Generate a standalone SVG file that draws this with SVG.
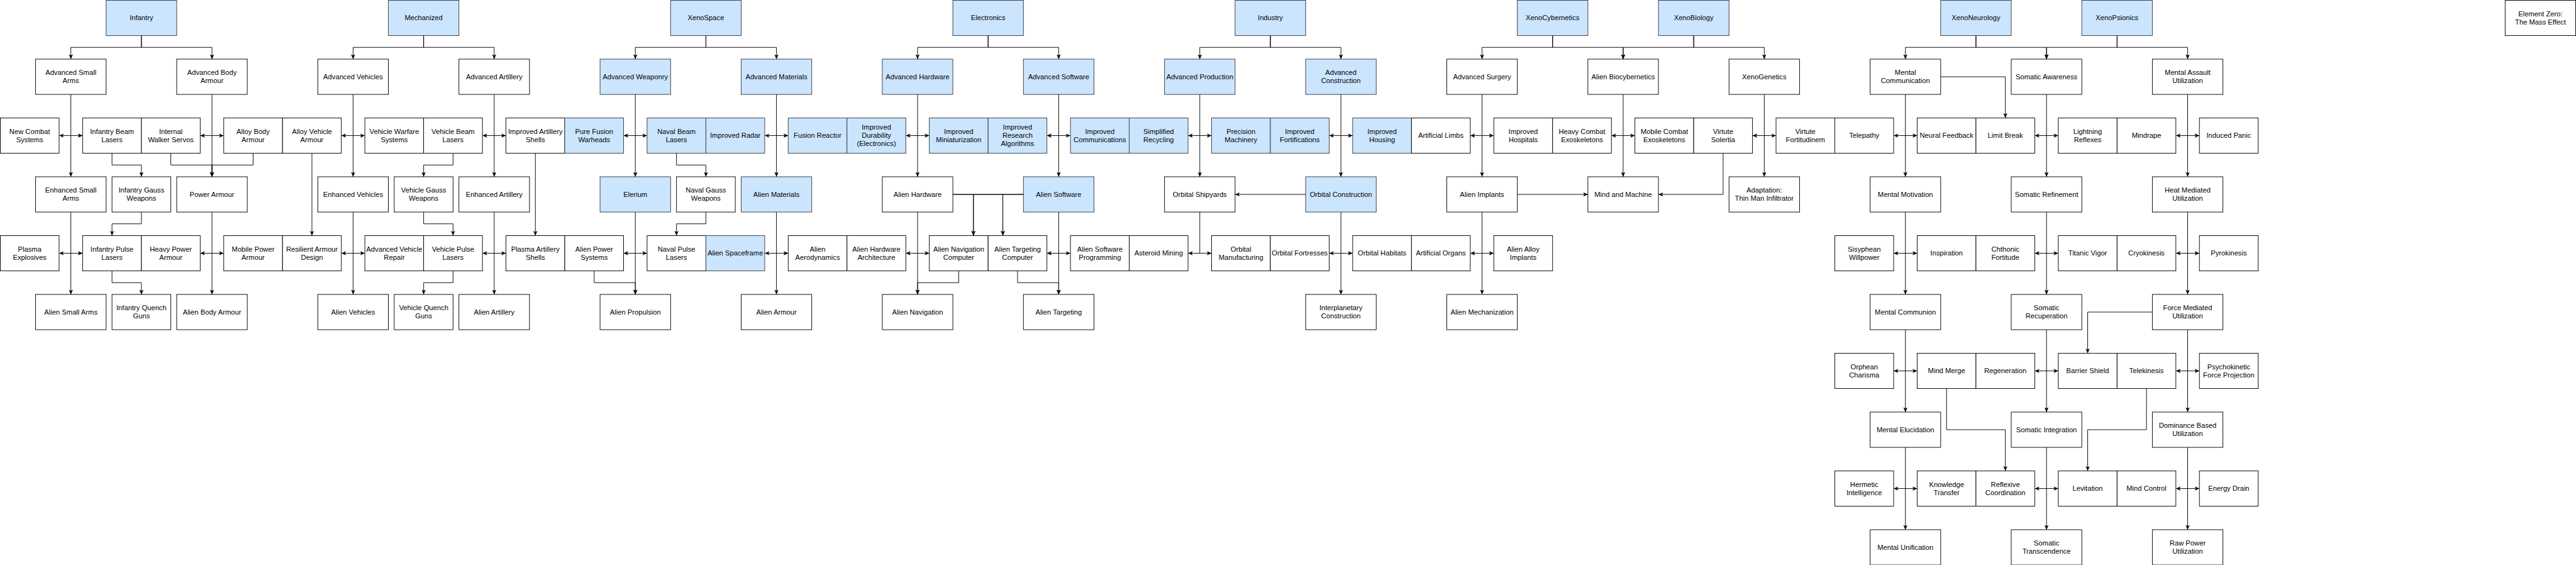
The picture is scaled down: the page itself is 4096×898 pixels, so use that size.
<svg xmlns="http://www.w3.org/2000/svg" width="4096" height="898" viewBox="0 0 4096 898">
<style>
.w{fill:#ffffff;stroke:#000000;stroke-width:1}
.b{fill:#cce5ff;stroke:#36393d;stroke-width:1}
text{font-family:"Liberation Sans",Arial,Helvetica,sans-serif;font-size:12px;text-anchor:middle;fill:#000000}
.c{fill:none;stroke:#000000;stroke-width:1;marker-end:url(#ah)}
.d{fill:none;stroke:#000000;stroke-width:1;marker-start:url(#ah);marker-end:url(#ah)}
.l{fill:none;stroke:#000000;stroke-width:1}
</style>
<defs>
<marker id="ah" viewBox="0 0 8 8" refX="8" refY="4" markerWidth="8" markerHeight="8" markerUnits="userSpaceOnUse" orient="auto-start-reverse">
<path d="M0,0.5 L8,4 L0,7.5 L2,4 Z" fill="#000000"/>
</marker>
</defs>
<rect x="0" y="0" width="4096" height="898" fill="#ffffff"/>
<g transform="scale(0.93495) translate(0.5 0.5)">
<g id="nodes">
<!-- Row 0 -->
<g id="infantry"><rect class="b" x="180" y="0" width="120" height="60"/><text x="240" y="34">Infantry</text></g>
<g id="mechanized"><rect class="b" x="660" y="0" width="120" height="60"/><text x="720" y="34">Mechanized</text></g>
<g id="xenospace"><rect class="b" x="1140" y="0" width="120" height="60"/><text x="1200" y="34">XenoSpace</text></g>
<g id="electronics"><rect class="b" x="1620" y="0" width="120" height="60"/><text x="1680" y="34">Electronics</text></g>
<g id="industry"><rect class="b" x="2100" y="0" width="120" height="60"/><text x="2160" y="34">Industry</text></g>
<g id="xenocybernetics"><rect class="b" x="2580" y="0" width="120" height="60"/><text x="2640" y="34">XenoCybernetics</text></g>
<g id="xenobiology"><rect class="b" x="2820" y="0" width="120" height="60"/><text x="2880" y="34">XenoBiology</text></g>
<g id="xenoneurology"><rect class="b" x="3300" y="0" width="120" height="60"/><text x="3360" y="34">XenoNeurology</text></g>
<g id="xenopsionics"><rect class="b" x="3540" y="0" width="120" height="60"/><text x="3600" y="34">XenoPsionics</text></g>
<g id="element-zero"><rect class="w" x="4260" y="0" width="120" height="60"/><text x="4320" y="27">Element Zero:</text><text x="4320" y="41">The Mass Effect</text></g>
<!-- Row 1 -->
<g id="adv-small-arms"><rect class="w" x="60" y="100" width="120" height="60"/><text x="120" y="127">Advanced Small</text><text x="120" y="141">Arms</text></g>
<g id="adv-body-armour"><rect class="w" x="300" y="100" width="120" height="60"/><text x="360" y="127">Advanced Body</text><text x="360" y="141">Armour</text></g>
<g id="adv-vehicles"><rect class="w" x="540" y="100" width="120" height="60"/><text x="600" y="134">Advanced Vehicles</text></g>
<g id="adv-artillery"><rect class="w" x="780" y="100" width="120" height="60"/><text x="840" y="134">Advanced Artillery</text></g>
<g id="adv-weaponry"><rect class="b" x="1020" y="100" width="120" height="60"/><text x="1080" y="134">Advanced Weaponry</text></g>
<g id="adv-materials"><rect class="b" x="1260" y="100" width="120" height="60"/><text x="1320" y="134">Advanced Materials</text></g>
<g id="adv-hardware"><rect class="b" x="1500" y="100" width="120" height="60"/><text x="1560" y="134">Advanced Hardware</text></g>
<g id="adv-software"><rect class="b" x="1740" y="100" width="120" height="60"/><text x="1800" y="134">Advanced Software</text></g>
<g id="adv-production"><rect class="b" x="1980" y="100" width="120" height="60"/><text x="2040" y="134">Advanced Production</text></g>
<g id="adv-construction"><rect class="b" x="2220" y="100" width="120" height="60"/><text x="2280" y="127">Advanced</text><text x="2280" y="141">Construction</text></g>
<g id="adv-surgery"><rect class="w" x="2460" y="100" width="120" height="60"/><text x="2520" y="134">Advanced Surgery</text></g>
<g id="alien-biocybernetics"><rect class="w" x="2700" y="100" width="120" height="60"/><text x="2760" y="134">Alien Biocybernetics</text></g>
<g id="xenogenetics"><rect class="w" x="2940" y="100" width="120" height="60"/><text x="3000" y="134">XenoGenetics</text></g>
<g id="mental-communication"><rect class="w" x="3180" y="100" width="120" height="60"/><text x="3240" y="127">Mental</text><text x="3240" y="141">Communication</text></g>
<g id="somatic-awareness"><rect class="w" x="3420" y="100" width="120" height="60"/><text x="3480" y="134">Somatic Awareness</text></g>
<g id="mental-assault"><rect class="w" x="3660" y="100" width="120" height="60"/><text x="3720" y="127">Mental Assault</text><text x="3720" y="141">Utilization</text></g>
<!-- Row 2 -->
<g id="new-combat-systems"><rect class="w" x="0" y="200" width="100" height="60"/><text x="50" y="227">New Combat</text><text x="50" y="241">Systems</text></g>
<g id="infantry-beam-lasers"><rect class="w" x="140" y="200" width="100" height="60"/><text x="190" y="227">Infantry Beam</text><text x="190" y="241">Lasers</text></g>
<g id="internal-walker-servos"><rect class="w" x="240" y="200" width="100" height="60"/><text x="290" y="227">Internal</text><text x="290" y="241">Walker Servos</text></g>
<g id="alloy-body-armour"><rect class="w" x="380" y="200" width="100" height="60"/><text x="430" y="227">Alloy Body</text><text x="430" y="241">Armour</text></g>
<g id="alloy-vehicle-armour"><rect class="w" x="480" y="200" width="100" height="60"/><text x="530" y="227">Alloy Vehicle</text><text x="530" y="241">Armour</text></g>
<g id="vehicle-warfare-systems"><rect class="w" x="620" y="200" width="100" height="60"/><text x="670" y="227">Vehicle Warfare</text><text x="670" y="241">Systems</text></g>
<g id="vehicle-beam-lasers"><rect class="w" x="720" y="200" width="100" height="60"/><text x="770" y="227">Vehicle Beam</text><text x="770" y="241">Lasers</text></g>
<g id="improved-artillery-shells"><rect class="w" x="860" y="200" width="100" height="60"/><text x="910" y="227">Improved Artillery</text><text x="910" y="241">Shells</text></g>
<g id="pure-fusion-warheads"><rect class="b" x="960" y="200" width="100" height="60"/><text x="1010" y="227">Pure Fusion</text><text x="1010" y="241">Warheads</text></g>
<g id="naval-beam-lasers"><rect class="b" x="1100" y="200" width="100" height="60"/><text x="1150" y="227">Naval Beam</text><text x="1150" y="241">Lasers</text></g>
<g id="improved-radar"><rect class="b" x="1200" y="200" width="100" height="60"/><text x="1250" y="234">Improved Radar</text></g>
<g id="fusion-reactor"><rect class="b" x="1340" y="200" width="100" height="60"/><text x="1390" y="234">Fusion Reactor</text></g>
<g id="improved-durability"><rect class="b" x="1440" y="200" width="100" height="60"/><text x="1490" y="220">Improved</text><text x="1490" y="234">Durability</text><text x="1490" y="248">(Electronics)</text></g>
<g id="improved-miniaturization"><rect class="b" x="1580" y="200" width="100" height="60"/><text x="1630" y="227">Improved</text><text x="1630" y="241">Miniaturization</text></g>
<g id="improved-research"><rect class="b" x="1680" y="200" width="100" height="60"/><text x="1730" y="220">Improved</text><text x="1730" y="234">Research</text><text x="1730" y="248">Algorithms</text></g>
<g id="improved-communications"><rect class="b" x="1820" y="200" width="100" height="60"/><text x="1870" y="227">Improved</text><text x="1870" y="241">Communications</text></g>
<g id="simplified-recycling"><rect class="b" x="1920" y="200" width="100" height="60"/><text x="1970" y="227">Simplified</text><text x="1970" y="241">Recycling</text></g>
<g id="precision-machinery"><rect class="b" x="2060" y="200" width="100" height="60"/><text x="2110" y="227">Precision</text><text x="2110" y="241">Machinery</text></g>
<g id="improved-fortifications"><rect class="b" x="2160" y="200" width="100" height="60"/><text x="2210" y="227">Improved</text><text x="2210" y="241">Fortifications</text></g>
<g id="improved-housing"><rect class="b" x="2300" y="200" width="100" height="60"/><text x="2350" y="227">Improved</text><text x="2350" y="241">Housing</text></g>
<g id="artificial-limbs"><rect class="w" x="2400" y="200" width="100" height="60"/><text x="2450" y="234">Artificial Limbs</text></g>
<g id="improved-hospitals"><rect class="w" x="2540" y="200" width="100" height="60"/><text x="2590" y="227">Improved</text><text x="2590" y="241">Hospitals</text></g>
<g id="heavy-combat-exoskeletons"><rect class="w" x="2640" y="200" width="100" height="60"/><text x="2690" y="227">Heavy Combat</text><text x="2690" y="241">Exoskeletons</text></g>
<g id="mobile-combat-exoskeletons"><rect class="w" x="2780" y="200" width="100" height="60"/><text x="2830" y="227">Mobile Combat</text><text x="2830" y="241">Exoskeletons</text></g>
<g id="virtute-solertia"><rect class="w" x="2880" y="200" width="100" height="60"/><text x="2930" y="227">Virtute</text><text x="2930" y="241">Solertia</text></g>
<g id="virtute-fortitudinem"><rect class="w" x="3020" y="200" width="100" height="60"/><text x="3070" y="227">Virtute</text><text x="3070" y="241">Fortitudinem</text></g>
<g id="telepathy"><rect class="w" x="3120" y="200" width="100" height="60"/><text x="3170" y="234">Telepathy</text></g>
<g id="neural-feedback"><rect class="w" x="3260" y="200" width="100" height="60"/><text x="3310" y="234">Neural Feedback</text></g>
<g id="limit-break"><rect class="w" x="3360" y="200" width="100" height="60"/><text x="3410" y="234">Limit Break</text></g>
<g id="lightning-reflexes"><rect class="w" x="3500" y="200" width="100" height="60"/><text x="3550" y="227">Lightning</text><text x="3550" y="241">Reflexes</text></g>
<g id="mindrape"><rect class="w" x="3600" y="200" width="100" height="60"/><text x="3650" y="234">Mindrape</text></g>
<g id="induced-panic"><rect class="w" x="3740" y="200" width="100" height="60"/><text x="3790" y="234">Induced Panic</text></g>
<!-- Row 3 -->
<g id="enhanced-small-arms"><rect class="w" x="60" y="300" width="120" height="60"/><text x="120" y="327">Enhanced Small</text><text x="120" y="341">Arms</text></g>
<g id="infantry-gauss-weapons"><rect class="w" x="190" y="300" width="100" height="60"/><text x="240" y="327">Infantry Gauss</text><text x="240" y="341">Weapons</text></g>
<g id="power-armour"><rect class="w" x="300" y="300" width="120" height="60"/><text x="360" y="334">Power Armour</text></g>
<g id="enhanced-vehicles"><rect class="w" x="540" y="300" width="120" height="60"/><text x="600" y="334">Enhanced Vehicles</text></g>
<g id="vehicle-gauss-weapons"><rect class="w" x="670" y="300" width="100" height="60"/><text x="720" y="327">Vehicle Gauss</text><text x="720" y="341">Weapons</text></g>
<g id="enhanced-artillery"><rect class="w" x="780" y="300" width="120" height="60"/><text x="840" y="334">Enhanced Artillery</text></g>
<g id="elerium"><rect class="b" x="1020" y="300" width="120" height="60"/><text x="1080" y="334">Elerium</text></g>
<g id="naval-gauss-weapons"><rect class="w" x="1150" y="300" width="100" height="60"/><text x="1200" y="327">Naval Gauss</text><text x="1200" y="341">Weapons</text></g>
<g id="alien-materials"><rect class="b" x="1260" y="300" width="120" height="60"/><text x="1320" y="334">Alien Materials</text></g>
<g id="alien-hardware"><rect class="w" x="1500" y="300" width="120" height="60"/><text x="1560" y="334">Alien Hardware</text></g>
<g id="alien-software"><rect class="b" x="1740" y="300" width="120" height="60"/><text x="1800" y="334">Alien Software</text></g>
<g id="orbital-shipyards"><rect class="w" x="1980" y="300" width="120" height="60"/><text x="2040" y="334">Orbital Shipyards</text></g>
<g id="orbital-construction"><rect class="b" x="2220" y="300" width="120" height="60"/><text x="2280" y="334">Orbital Construction</text></g>
<g id="alien-implants"><rect class="w" x="2460" y="300" width="120" height="60"/><text x="2520" y="334">Alien Implants</text></g>
<g id="mind-and-machine"><rect class="w" x="2700" y="300" width="120" height="60"/><text x="2760" y="334">Mind and Machine</text></g>
<g id="adaptation"><rect class="w" x="2940" y="300" width="120" height="60"/><text x="3000" y="327">Adaptation:</text><text x="3000" y="341">Thin Man Infiltrator</text></g>
<g id="mental-motivation"><rect class="w" x="3180" y="300" width="120" height="60"/><text x="3240" y="334">Mental Motivation</text></g>
<g id="somatic-refinement"><rect class="w" x="3420" y="300" width="120" height="60"/><text x="3480" y="334">Somatic Refinement</text></g>
<g id="heat-mediated"><rect class="w" x="3660" y="300" width="120" height="60"/><text x="3720" y="327">Heat Mediated</text><text x="3720" y="341">Utilization</text></g>
<!-- Row 4 -->
<g id="plasma-explosives"><rect class="w" x="0" y="400" width="100" height="60"/><text x="50" y="427">Plasma</text><text x="50" y="441">Explosives</text></g>
<g id="infantry-pulse-lasers"><rect class="w" x="140" y="400" width="100" height="60"/><text x="190" y="427">Infantry Pulse</text><text x="190" y="441">Lasers</text></g>
<g id="heavy-power-armour"><rect class="w" x="240" y="400" width="100" height="60"/><text x="290" y="427">Heavy Power</text><text x="290" y="441">Armour</text></g>
<g id="mobile-power-armour"><rect class="w" x="380" y="400" width="100" height="60"/><text x="430" y="427">Mobile Power</text><text x="430" y="441">Armour</text></g>
<g id="resilient-armour-design"><rect class="w" x="480" y="400" width="100" height="60"/><text x="530" y="427">Resilient Armour</text><text x="530" y="441">Design</text></g>
<g id="advanced-vehicle-repair"><rect class="w" x="620" y="400" width="100" height="60"/><text x="670" y="427">Advanced Vehicle</text><text x="670" y="441">Repair</text></g>
<g id="vehicle-pulse-lasers"><rect class="w" x="720" y="400" width="100" height="60"/><text x="770" y="427">Vehicle Pulse</text><text x="770" y="441">Lasers</text></g>
<g id="plasma-artillery-shells"><rect class="w" x="860" y="400" width="100" height="60"/><text x="910" y="427">Plasma Artillery</text><text x="910" y="441">Shells</text></g>
<g id="alien-power-systems"><rect class="w" x="960" y="400" width="100" height="60"/><text x="1010" y="427">Alien Power</text><text x="1010" y="441">Systems</text></g>
<g id="naval-pulse-lasers"><rect class="w" x="1100" y="400" width="100" height="60"/><text x="1150" y="427">Naval Pulse</text><text x="1150" y="441">Lasers</text></g>
<g id="alien-spaceframe"><rect class="b" x="1200" y="400" width="100" height="60"/><text x="1250" y="434">Alien Spaceframe</text></g>
<g id="alien-aerodynamics"><rect class="w" x="1340" y="400" width="100" height="60"/><text x="1390" y="427">Alien</text><text x="1390" y="441">Aerodynamics</text></g>
<g id="alien-hardware-architecture"><rect class="w" x="1440" y="400" width="100" height="60"/><text x="1490" y="427">Alien Hardware</text><text x="1490" y="441">Architecture</text></g>
<g id="alien-navigation-computer"><rect class="w" x="1580" y="400" width="100" height="60"/><text x="1630" y="427">Alien Navigation</text><text x="1630" y="441">Computer</text></g>
<g id="alien-targeting-computer"><rect class="w" x="1680" y="400" width="100" height="60"/><text x="1730" y="427">Alien Targeting</text><text x="1730" y="441">Computer</text></g>
<g id="alien-software-programming"><rect class="w" x="1820" y="400" width="100" height="60"/><text x="1870" y="427">Alien Software</text><text x="1870" y="441">Programming</text></g>
<g id="asteroid-mining"><rect class="w" x="1920" y="400" width="100" height="60"/><text x="1970" y="434">Asteroid Mining</text></g>
<g id="orbital-manufacturing"><rect class="w" x="2060" y="400" width="100" height="60"/><text x="2110" y="427">Orbital</text><text x="2110" y="441">Manufacturing</text></g>
<g id="orbital-fortresses"><rect class="w" x="2160" y="400" width="100" height="60"/><text x="2210" y="434">Orbital Fortresses</text></g>
<g id="orbital-habitats"><rect class="w" x="2300" y="400" width="100" height="60"/><text x="2350" y="434">Orbital Habitats</text></g>
<g id="artificial-organs"><rect class="w" x="2400" y="400" width="100" height="60"/><text x="2450" y="434">Artificial Organs</text></g>
<g id="alien-alloy-implants"><rect class="w" x="2540" y="400" width="100" height="60"/><text x="2590" y="427">Alien Alloy</text><text x="2590" y="441">Implants</text></g>
<g id="sisyphean-willpower"><rect class="w" x="3120" y="400" width="100" height="60"/><text x="3170" y="427">Sisyphean</text><text x="3170" y="441">Willpower</text></g>
<g id="inspiration"><rect class="w" x="3260" y="400" width="100" height="60"/><text x="3310" y="434">Inspiration</text></g>
<g id="chthonic-fortitude"><rect class="w" x="3360" y="400" width="100" height="60"/><text x="3410" y="427">Chthonic</text><text x="3410" y="441">Fortitude</text></g>
<g id="titanic-vigor"><rect class="w" x="3500" y="400" width="100" height="60"/><text x="3550" y="434">Titanic Vigor</text></g>
<g id="cryokinesis"><rect class="w" x="3600" y="400" width="100" height="60"/><text x="3650" y="434">Cryokinesis</text></g>
<g id="pyrokinesis"><rect class="w" x="3740" y="400" width="100" height="60"/><text x="3790" y="434">Pyrokinesis</text></g>
<!-- Row 5 -->
<g id="alien-small-arms"><rect class="w" x="60" y="500" width="120" height="60"/><text x="120" y="534">Alien Small Arms</text></g>
<g id="infantry-quench-guns"><rect class="w" x="190" y="500" width="100" height="60"/><text x="240" y="527">Infantry Quench</text><text x="240" y="541">Guns</text></g>
<g id="alien-body-armour"><rect class="w" x="300" y="500" width="120" height="60"/><text x="360" y="534">Alien Body Armour</text></g>
<g id="alien-vehicles"><rect class="w" x="540" y="500" width="120" height="60"/><text x="600" y="534">Alien Vehicles</text></g>
<g id="vehicle-quench-guns"><rect class="w" x="670" y="500" width="100" height="60"/><text x="720" y="527">Vehicle Quench</text><text x="720" y="541">Guns</text></g>
<g id="alien-artillery"><rect class="w" x="780" y="500" width="120" height="60"/><text x="840" y="534">Alien Artillery</text></g>
<g id="alien-propulsion"><rect class="w" x="1020" y="500" width="120" height="60"/><text x="1080" y="534">Alien Propulsion</text></g>
<g id="alien-armour"><rect class="w" x="1260" y="500" width="120" height="60"/><text x="1320" y="534">Alien Armour</text></g>
<g id="alien-navigation"><rect class="w" x="1500" y="500" width="120" height="60"/><text x="1560" y="534">Alien Navigation</text></g>
<g id="alien-targeting"><rect class="w" x="1740" y="500" width="120" height="60"/><text x="1800" y="534">Alien Targeting</text></g>
<g id="interplanetary-construction"><rect class="w" x="2220" y="500" width="120" height="60"/><text x="2280" y="527">Interplanetary</text><text x="2280" y="541">Construction</text></g>
<g id="alien-mechanization"><rect class="w" x="2460" y="500" width="120" height="60"/><text x="2520" y="534">Alien Mechanization</text></g>
<g id="mental-communion"><rect class="w" x="3180" y="500" width="120" height="60"/><text x="3240" y="534">Mental Communion</text></g>
<g id="somatic-recuperation"><rect class="w" x="3420" y="500" width="120" height="60"/><text x="3480" y="527">Somatic</text><text x="3480" y="541">Recuperation</text></g>
<g id="force-mediated"><rect class="w" x="3660" y="500" width="120" height="60"/><text x="3720" y="527">Force Mediated</text><text x="3720" y="541">Utilization</text></g>
<!-- Row 6 -->
<g id="orphean-charisma"><rect class="w" x="3120" y="600" width="100" height="60"/><text x="3170" y="627">Orphean</text><text x="3170" y="641">Charisma</text></g>
<g id="mind-merge"><rect class="w" x="3260" y="600" width="100" height="60"/><text x="3310" y="634">Mind Merge</text></g>
<g id="regeneration"><rect class="w" x="3360" y="600" width="100" height="60"/><text x="3410" y="634">Regeneration</text></g>
<g id="barrier-shield"><rect class="w" x="3500" y="600" width="100" height="60"/><text x="3550" y="634">Barrier Shield</text></g>
<g id="telekinesis"><rect class="w" x="3600" y="600" width="100" height="60"/><text x="3650" y="634">Telekinesis</text></g>
<g id="psychokinetic"><rect class="w" x="3740" y="600" width="100" height="60"/><text x="3790" y="627">Psychokinetic</text><text x="3790" y="641">Force Projection</text></g>
<!-- Row 7 -->
<g id="mental-elucidation"><rect class="w" x="3180" y="700" width="120" height="60"/><text x="3240" y="734">Mental Elucidation</text></g>
<g id="somatic-integration"><rect class="w" x="3420" y="700" width="120" height="60"/><text x="3480" y="734">Somatic Integration</text></g>
<g id="dominance-based"><rect class="w" x="3660" y="700" width="120" height="60"/><text x="3720" y="727">Dominance Based</text><text x="3720" y="741">Utilization</text></g>
<!-- Row 8 -->
<g id="hermetic-intelligence"><rect class="w" x="3120" y="800" width="100" height="60"/><text x="3170" y="827">Hermetic</text><text x="3170" y="841">Intelligence</text></g>
<g id="knowledge-transfer"><rect class="w" x="3260" y="800" width="100" height="60"/><text x="3310" y="827">Knowledge</text><text x="3310" y="841">Transfer</text></g>
<g id="reflexive-coordination"><rect class="w" x="3360" y="800" width="100" height="60"/><text x="3410" y="827">Reflexive</text><text x="3410" y="841">Coordination</text></g>
<g id="levitation"><rect class="w" x="3500" y="800" width="100" height="60"/><text x="3550" y="834">Levitation</text></g>
<g id="mind-control"><rect class="w" x="3600" y="800" width="100" height="60"/><text x="3650" y="834">Mind Control</text></g>
<g id="energy-drain"><rect class="w" x="3740" y="800" width="100" height="60"/><text x="3790" y="834">Energy Drain</text></g>
<!-- Row 9 -->
<g id="mental-unification"><rect class="w" x="3180" y="900" width="120" height="60"/><text x="3240" y="934">Mental Unification</text></g>
<g id="somatic-transcendence"><rect class="w" x="3420" y="900" width="120" height="60"/><text x="3480" y="927">Somatic</text><text x="3480" y="941">Transcendence</text></g>
<g id="raw-power"><rect class="w" x="3660" y="900" width="120" height="60"/><text x="3720" y="927">Raw Power</text><text x="3720" y="941">Utilization</text></g>
</g>
<g id="connectors">
<!-- category to first tier -->
<path class="c" d="M240,60V80H120V100"/><path class="c" d="M240,60V80H360V100"/>
<path class="c" d="M720,60V80H600V100"/><path class="c" d="M720,60V80H840V100"/>
<path class="c" d="M1200,60V80H1080V100"/><path class="c" d="M1200,60V80H1320V100"/>
<path class="c" d="M1680,60V80H1560V100"/><path class="c" d="M1680,60V80H1800V100"/>
<path class="c" d="M2160,60V80H2040V100"/><path class="c" d="M2160,60V80H2280V100"/>
<path class="c" d="M2640,60V80H2520V100"/><path class="c" d="M2640,60V80H2760V100"/>
<path class="c" d="M2880,60V80H2760V100"/><path class="c" d="M2880,60V80H3000V100"/>
<path class="c" d="M3360,60V80H3240V100"/><path class="c" d="M3360,60V80H3480V100"/>
<path class="c" d="M3600,60V80H3480V100"/><path class="c" d="M3600,60V80H3720V100"/>
<!-- vertical chains -->
<path class="c" d="M120,160V300"/><path class="c" d="M120,360V500"/>
<path class="c" d="M360,160V300"/><path class="c" d="M360,360V500"/>
<path class="c" d="M600,160V300"/><path class="c" d="M600,360V500"/>
<path class="c" d="M840,160V300"/><path class="c" d="M840,360V500"/>
<path class="c" d="M1080,160V300"/><path class="c" d="M1080,360V500"/>
<path class="c" d="M1320,160V300"/><path class="c" d="M1320,360V500"/>
<path class="c" d="M1560,160V300"/><path class="c" d="M1560,360V500"/>
<path class="c" d="M1800,160V300"/><path class="c" d="M1800,360V500"/>
<path class="c" d="M2040,160V300"/>
<path class="c" d="M2280,160V300"/><path class="c" d="M2280,360V500"/>
<path class="c" d="M2520,160V300"/><path class="c" d="M2520,360V500"/>
<path class="c" d="M2760,160V300"/>
<path class="c" d="M3000,160V300"/>
<path class="c" d="M3240,160V300"/><path class="c" d="M3240,360V500"/><path class="c" d="M3240,560V700"/><path class="c" d="M3240,760V900"/>
<path class="c" d="M3480,160V300"/><path class="c" d="M3480,360V500"/><path class="c" d="M3480,560V700"/><path class="c" d="M3480,760V900"/>
<path class="c" d="M3720,160V300"/><path class="c" d="M3720,360V500"/><path class="c" d="M3720,560V700"/><path class="c" d="M3720,760V900"/>
<!-- elbow connectors -->
<path class="c" d="M190,260V280H240V300"/>
<path class="c" d="M290,260V280H360V300"/><path class="c" d="M430,260V280H360V300"/>
<path class="c" d="M240,360V380H190V400"/>
<path class="c" d="M190,460V480H240V500"/>
<path class="c" d="M530,260V400"/>
<path class="c" d="M770,260V280H720V300"/>
<path class="c" d="M720,360V380H770V400"/>
<path class="c" d="M770,460V480H720V500"/>
<path class="c" d="M910,260V400"/>
<path class="c" d="M1010,460V480H1080V500"/>
<path class="c" d="M1150,260V280H1200V300"/>
<path class="c" d="M1200,360V380H1150V400"/>
<path class="c" d="M1620,330H1655V400"/><path class="c" d="M1620,330H1705V400"/>
<path class="c" d="M1740,330H1705V400"/><path class="c" d="M1740,330H1655V400"/>
<path class="c" d="M1630,460V480H1560V500"/>
<path class="c" d="M1730,460V480H1800V500"/>
<path class="c" d="M2220,330H2100"/>
<path class="l" d="M2040,360V430"/>
<path class="c" d="M2580,330H2700"/>
<path class="c" d="M2930,260V330H2820"/>
<path class="c" d="M3300,130H3410V200"/>
<path class="c" d="M3660,530H3550V600"/>
<path class="c" d="M3310,660V730H3410V800"/>
<path class="c" d="M3650,660V730H3550V800"/>
<!-- bidirectional links row 200 -->
<path class="d" d="M100,230H140"/><path class="d" d="M340,230H380"/><path class="d" d="M580,230H620"/><path class="d" d="M820,230H860"/>
<path class="d" d="M1060,230H1100"/><path class="d" d="M1300,230H1340"/><path class="d" d="M1540,230H1580"/><path class="d" d="M1780,230H1820"/>
<path class="d" d="M2020,230H2060"/><path class="d" d="M2260,230H2300"/><path class="d" d="M2500,230H2540"/><path class="d" d="M2740,230H2780"/>
<path class="d" d="M2980,230H3020"/><path class="d" d="M3220,230H3260"/><path class="d" d="M3460,230H3500"/><path class="d" d="M3700,230H3740"/>
<!-- row 400 -->
<path class="d" d="M100,430H140"/><path class="d" d="M340,430H380"/><path class="d" d="M580,430H620"/><path class="d" d="M820,430H860"/>
<path class="d" d="M1060,430H1100"/><path class="d" d="M1300,430H1340"/><path class="d" d="M1540,430H1580"/><path class="d" d="M1780,430H1820"/>
<path class="d" d="M2020,430H2060"/><path class="d" d="M2260,430H2300"/><path class="d" d="M2500,430H2540"/>
<path class="d" d="M3220,430H3260"/><path class="d" d="M3460,430H3500"/><path class="d" d="M3700,430H3740"/>
<!-- row 600 -->
<path class="d" d="M3220,630H3260"/><path class="d" d="M3460,630H3500"/><path class="d" d="M3700,630H3740"/>
<!-- row 800 -->
<path class="d" d="M3220,830H3260"/><path class="d" d="M3460,830H3500"/><path class="d" d="M3700,830H3740"/>
</g>
</g>
</svg>
